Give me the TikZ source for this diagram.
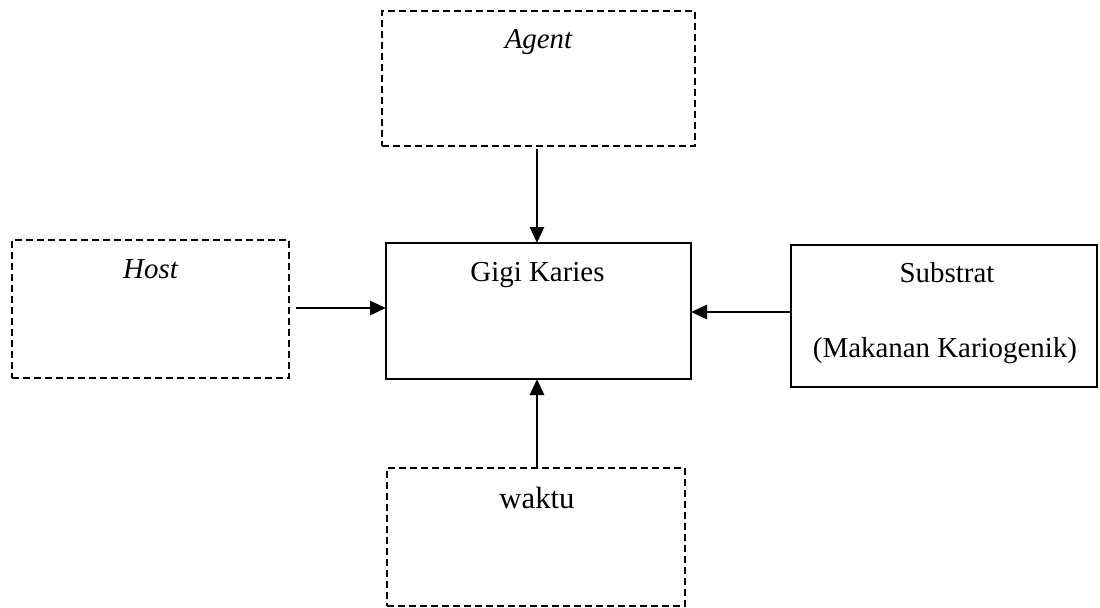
\documentclass[tikz,border=0pt]{standalone}
\usepackage{fontspec}
\setmainfont{Liberation Serif}
\usetikzlibrary{arrows.meta,calc}
\begin{document}
\begin{tikzpicture}[x=0.5pt,y=-0.5pt,
  box/.style={draw,line width=0.9pt,minimum width=#1,inner sep=0pt,outer sep=0pt},
  dbox/.style={box=#1,dash pattern=on 3.5pt off 2pt},
  lbl/.style={anchor=base,inner sep=0pt,font=\fontsize{14.45}{17}\selectfont},
  conn/.style={line width=1.35pt,-{Triangle[length=8pt,width=7pt]}}]
\useasboundingbox (0,0) rectangle (1100,607);
% boxes (pixel coordinates, y downward)
\node[dbox, minimum width=156.5pt, minimum height=67.5pt] (agent) at (538.5,78.5) {};
\node[dbox, minimum width=138.5pt, minimum height=69pt] (host) at (150.5,309) {};
\node[box, minimum width=152.5pt, minimum height=68pt] (gigi) at (538.5,311) {};
\node[box, minimum width=153pt, minimum height=71pt] (sub) at (944,316) {};
\node[dbox, minimum width=149pt, minimum height=69pt] (waktu) at (536,537) {};
% texts
\node[lbl] (tagent) at ($(agent.north)+(0,37)$) {\itshape Agent};
\node[lbl] (thost) at ($(host.north)+(0,38)$) {\itshape Host};
\node[lbl] (tgigi) at ($(gigi.north)+(-1,38)$) {Gigi Karies};
\node[lbl] (tsub) at ($(sub.north)+(3,37)$) {Substrat};
\node[lbl] (tmak) at ($(sub.north)+(1,112)$) {(Makanan Kariogenik)};
\node[lbl,font=\fontsize{15.35}{18}\selectfont] (twaktu) at ($(waktu.north)+(1,40)$) {waktu};
% connectors
\draw[conn] ($(agent.south)+(-1.5,3)$) -- ($(gigi.north)+(-1.5,0)$);
\draw[conn] ($(host.east)+(7,-1)$) -- (gigi.west |- {$(host.east)+(0,-1)$});
\draw[conn] ($(sub.west)+(0,-4)$) -- (gigi.east |- {$(sub.west)+(0,-4)$});
\draw[conn] ($(waktu.north)+(1,0)$) -- ($(gigi.south)+(-1.5,0)$);
\end{tikzpicture}
\end{document}
